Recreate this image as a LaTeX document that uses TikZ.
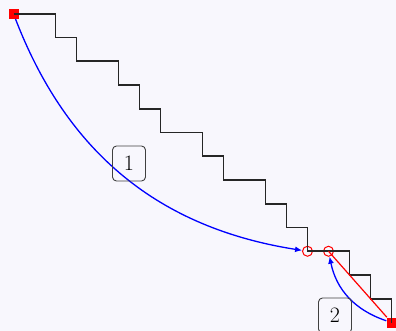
\documentclass[tikz,border=0pt]{standalone}
\usetikzlibrary{arrows.meta}
\definecolor{bgc}{RGB}{248,247,253}
\begin{document}
\begin{tikzpicture}[x=1pt,y=-1pt,
  sq/.style={fill=red,draw=none,minimum size=10pt,inner sep=0pt,rectangle},
  ring/.style={circle,draw=red,line width=1pt,minimum size=10pt,inner sep=0pt},
  stair/.style={draw=black!85,line width=1.6pt},
  arc/.style={draw=blue,line width=1.3pt,-{Latex[length=7pt,width=6pt]}},
  lab/.style={draw=black!75,line width=0.9pt,rounded corners=4pt,minimum width=33pt,minimum height=35pt,inner sep=0pt,font=\fontsize{22}{26}\selectfont}]
\fill[bgc] (0,0) rectangle (396,331);
\useasboundingbox (0,0) rectangle (396,331);
\node[sq] (A) at (13.5,13.75) {};
\node[sq] (B) at (391.5,322.5) {};
\node[ring] (c1) at (307.5,251.25) {};
\node[ring] (c2) at (328.5,251.25) {};
\draw[stair] (A.center) -| (55.5,37.5) -| (76.5,61.25) -| (118.5,85) -| (139.5,108.75)
  -| (160.5,132.5) -| (202.5,156.25) -| (223.5,180) -| (265.5,203.75) -| (286.5,227.5)
  -| (c1.center) -| (349.5,275) -| (370.5,298.75) -| (B.center);
\draw[red,line width=1.2pt] (c2.center) -- (B);
\draw[arc] (A) to[bend right=30] (c1);
\draw[arc] (B) to[bend left=30] (c2);
\node[lab] (l1) at (129,163.5) {1};
\node[lab] (l2) at (335,315.5) {2};
\end{tikzpicture}
\end{document}
